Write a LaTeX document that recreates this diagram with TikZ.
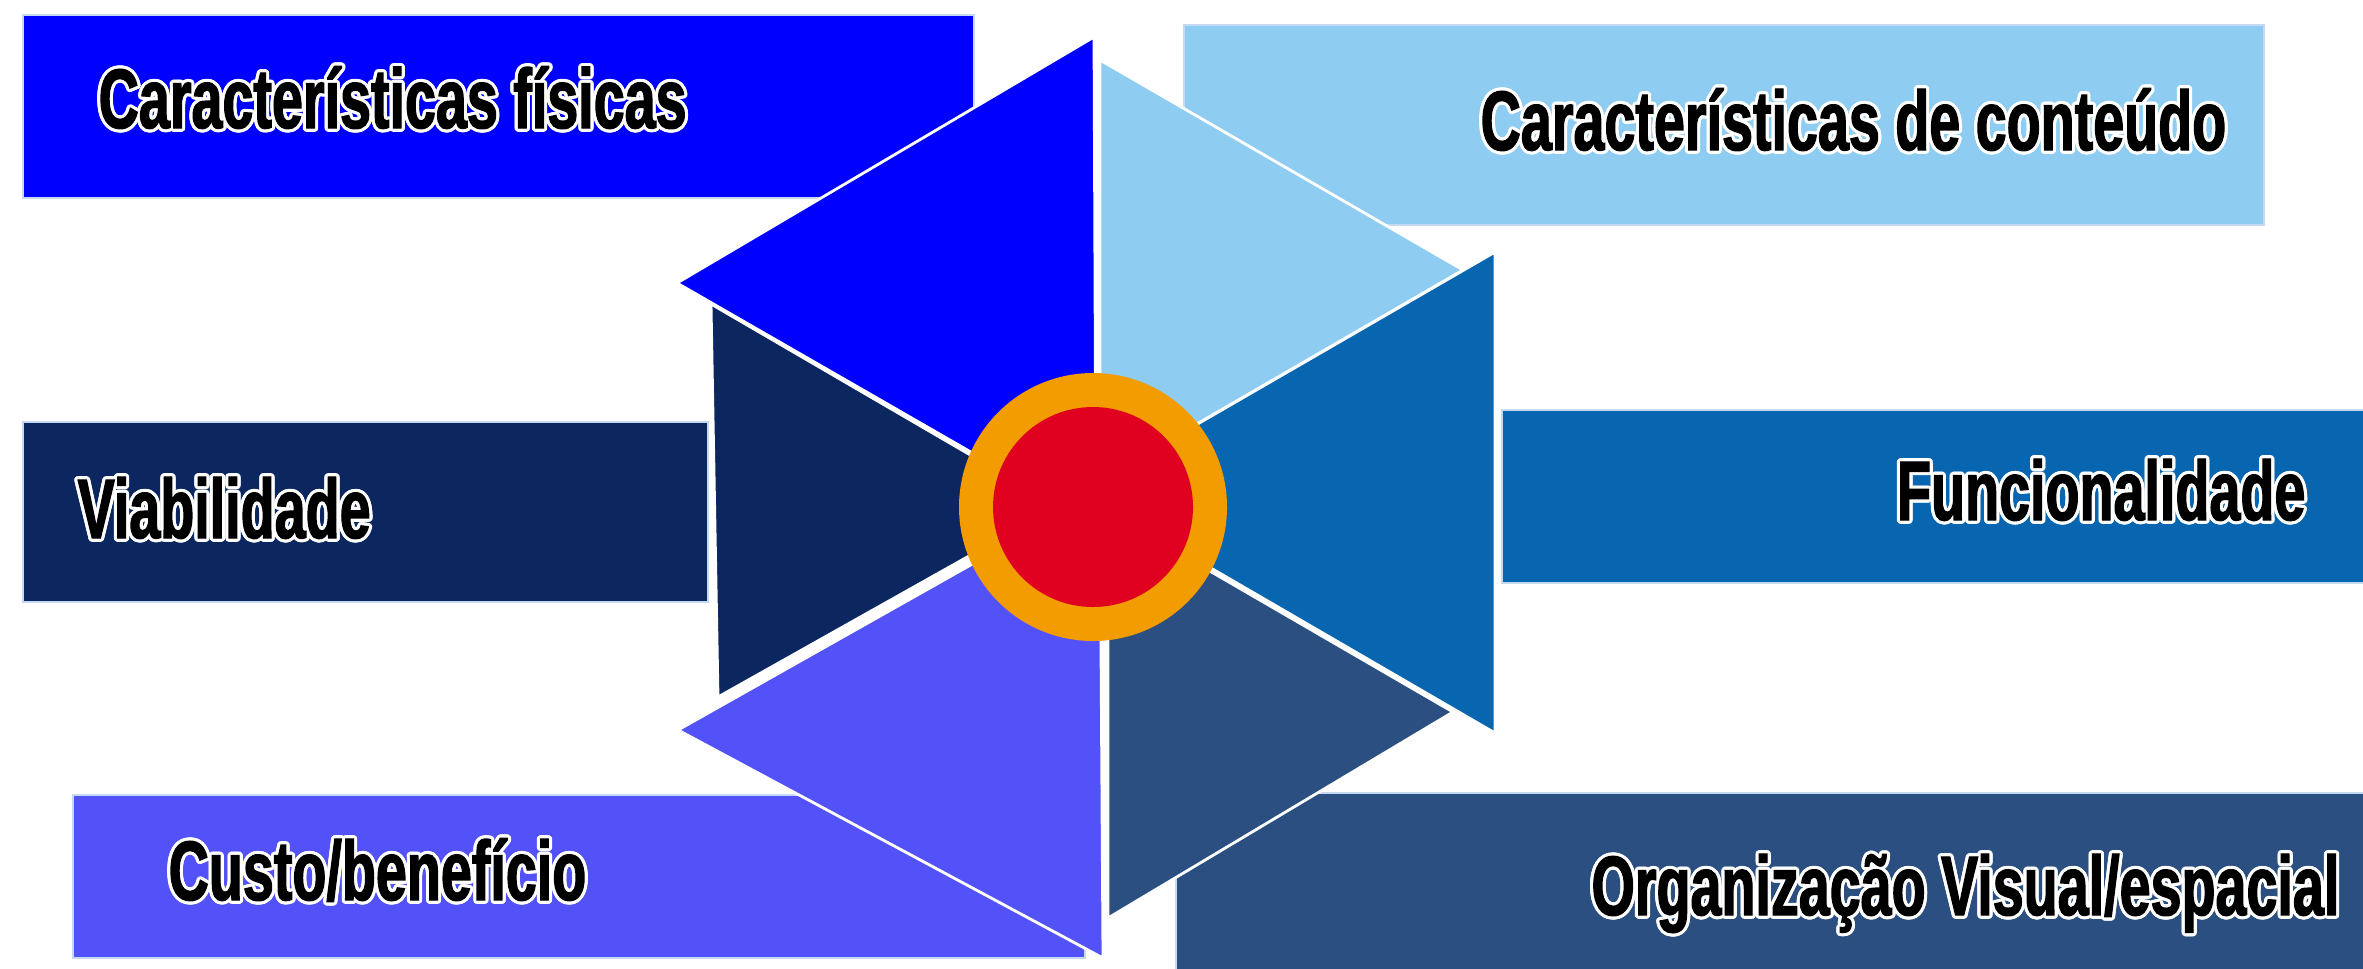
\documentclass[tikz,border=0pt]{standalone}
\usepackage{fontspec}
\usepackage{contour}
\newfontfamily\tagfont[FakeStretch=0.66, BoldFeatures={FakeBold=1.5}]{Liberation Sans}
\contourlength{0.9pt}
\definecolor{fisblue}{HTML}{0000FF}
\definecolor{contblue}{HTML}{8ECDF1}
\definecolor{viabnavy}{HTML}{0C2660}
\definecolor{funcblue}{HTML}{0866B0}
\definecolor{custoblue}{HTML}{5252F8}
\definecolor{orgslate}{HTML}{2A4F80}
\definecolor{ringorange}{HTML}{F39C00}
\definecolor{corered}{HTML}{E0001F}
\definecolor{edgeglow}{HTML}{C6D9F3}

\begin{document}
\begin{tikzpicture}[x=0.1mm, y=-0.1mm,
  band/.style={draw=edgeglow, line width=0.5pt},
  wedge/.style={draw=white, line width=0.8pt, line join=round},
  tag/.style={inner sep=0pt, text=black, font={\tagfont\bfseries\fontsize{24pt}{28pt}\selectfont}}]

\useasboundingbox (0,0) rectangle (2363,968);

\path[band, fill=fisblue] (23,15) rectangle (974,198);
\path[band, fill=contblue] (1184,25) rectangle (2264,225);
\path[band, fill=viabnavy] (23,422) rectangle (708,602);
\path[band, fill=funcblue] (1502,410) rectangle (2375,583);
\path[band, fill=custoblue] (73,795) rectangle (1085,958);
\path[band, fill=orgslate] (1176,793) rectangle (2375,980);

\path[wedge, fill=viabnavy] (711,304) -- (1058,506) -- (718,697) -- cycle;
\path[wedge, fill=fisblue] (1094,37) -- (677,283) -- (1096,524) -- cycle;
\path[wedge, fill=contblue] (1100,60) -- (1463,270) -- (1100,480) -- cycle;
\path[wedge, fill=funcblue] (1495,252) -- (1495,733) -- (1080,492) -- cycle;
\path[wedge, fill=orgslate] (1108,512) -- (1453,712) -- (1108,918) -- cycle;
\path[wedge, fill=custoblue] (1100,492) -- (678,730) -- (1103,958) -- cycle;

\node (ring) [circle, fill=ringorange, inner sep=0pt, minimum size=26.8mm] at (1093,507) {};
\node (core) [circle, fill=corered, inner sep=0pt, minimum size=20mm] at (ring) {};

\node (fisicas) [tag, anchor=base west] at (98,128) {\contour{white}{Características físicas}};
\node (conteudo) [tag, anchor=base east] at (2227,150) {\contour{white}{Características de conteúdo}};
\node (viab) [tag, anchor=base west] at (77,538) {\contour{white}{Viabilidade}};
\node (func) [tag, anchor=base east] at (2306,520) {\contour{white}{Funcionalidade}};
\node (custo) [tag, anchor=base west] at (168,900) {\contour{white}{Custo/benefício}};
\node (org) [tag, anchor=base east] at (2340,915) {\contour{white}{Organização Visual/espacial}};

\end{tikzpicture}
\end{document}
